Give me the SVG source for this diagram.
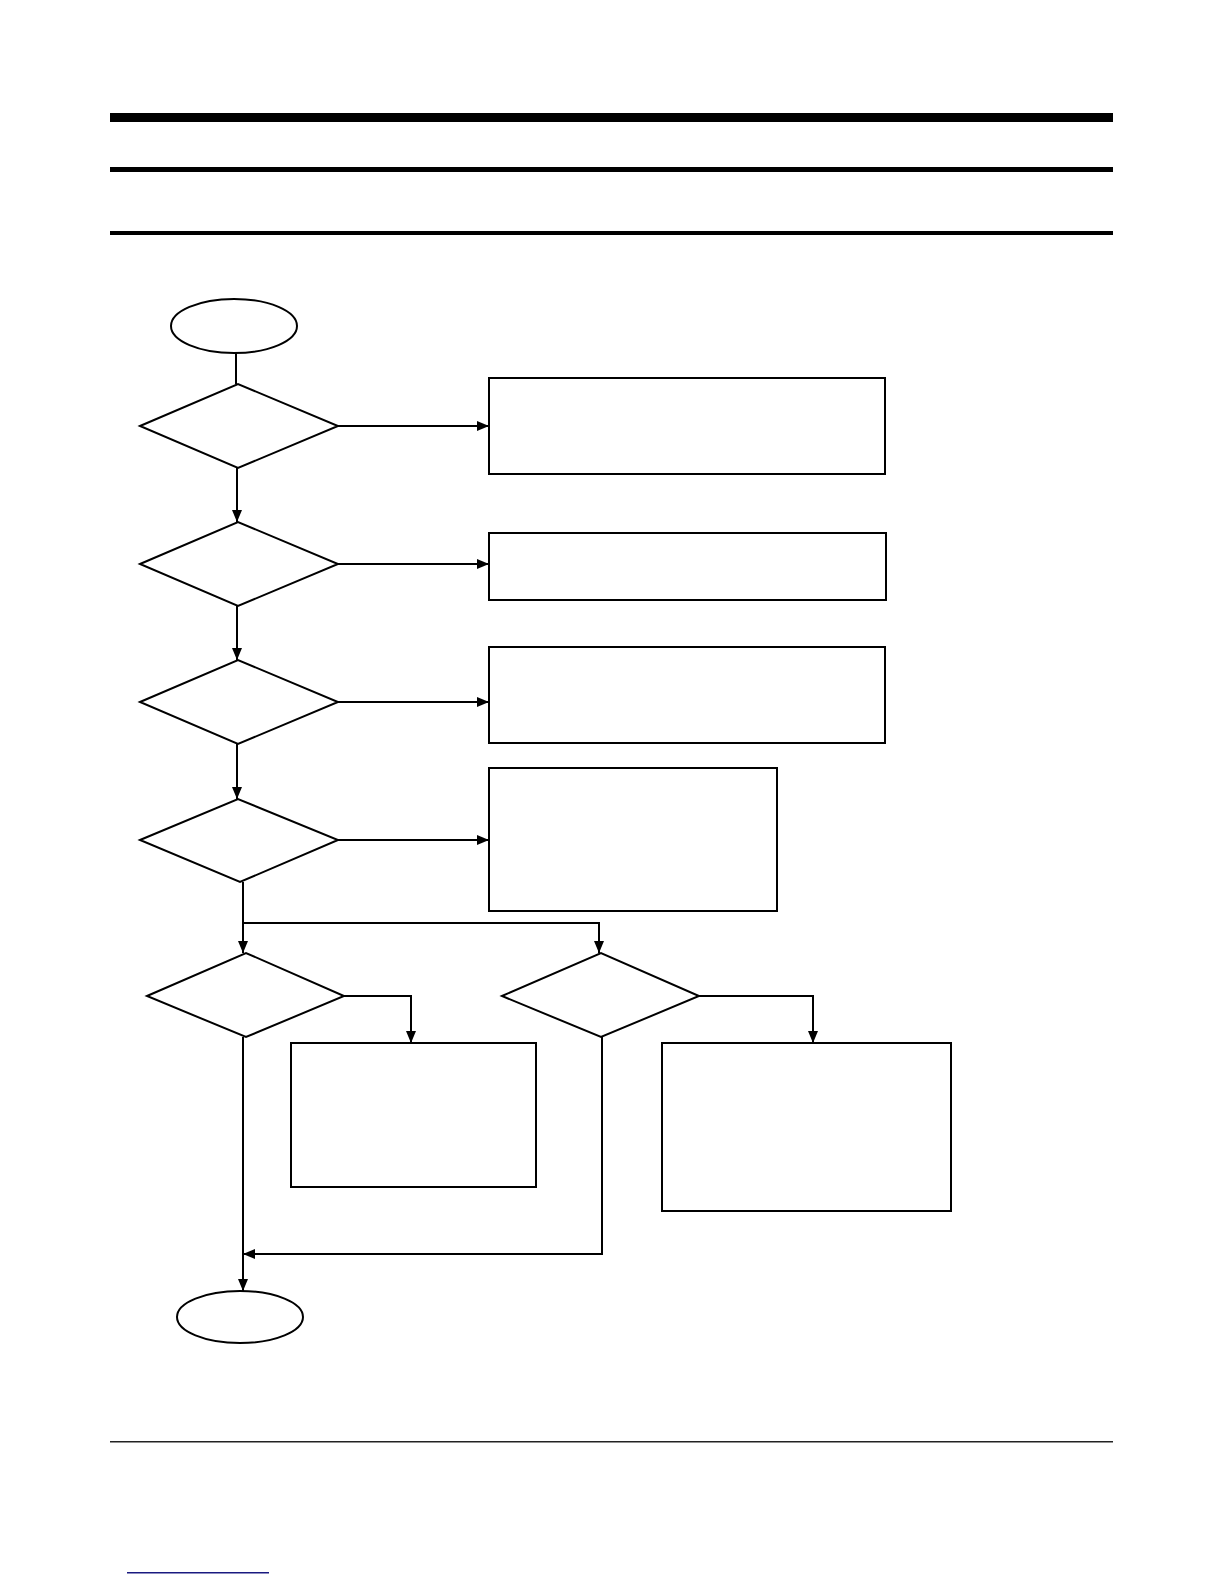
<svg xmlns="http://www.w3.org/2000/svg" width="1224" height="1584" viewBox="0 0 1224 1584">
<style>
.shape{fill:#fff;stroke:#000;stroke-width:2}
.conn{fill:none;stroke:#000;stroke-width:2}
</style>
<defs>
<marker id="arr" markerUnits="userSpaceOnUse" markerWidth="14" markerHeight="10" refX="12" refY="5" orient="auto">
<path d="M0,0 L12,5 L0,10 Z" fill="#000"/>
</marker>
</defs>
<rect width="1224" height="1584" fill="#fff"/>
<g id="header">
<rect x="110" y="113" width="1003" height="9" fill="#000"/>
<rect x="110" y="167" width="1003" height="5" fill="#000"/>
<rect x="110" y="231" width="1003" height="4" fill="#000"/>
</g>
<g id="footer">
<rect x="110" y="1441" width="1003" height="1.5" fill="#222"/>
<rect x="127" y="1572" width="142" height="1.5" fill="#1a1a80"/>
</g>
<g id="connectors">
<path class="conn" d="M236,353 V384"/>
<path class="conn" d="M338,426 H489" marker-end="url(#arr)"/>
<path class="conn" d="M237,468 V522" marker-end="url(#arr)"/>
<path class="conn" d="M338,564 H489" marker-end="url(#arr)"/>
<path class="conn" d="M237,606 V660" marker-end="url(#arr)"/>
<path class="conn" d="M338,702 H489" marker-end="url(#arr)"/>
<path class="conn" d="M237,744 V799" marker-end="url(#arr)"/>
<path class="conn" d="M338,840 H489" marker-end="url(#arr)"/>
<path class="conn" d="M243,882 V953" marker-end="url(#arr)"/>
<path class="conn" d="M243,923 H599 V953" marker-end="url(#arr)"/>
<path class="conn" d="M344,996 H411 V1043" marker-end="url(#arr)"/>
<path class="conn" d="M699,996 H813 V1043" marker-end="url(#arr)"/>
<path class="conn" d="M243,1037 V1291" marker-end="url(#arr)"/>
<path class="conn" d="M602,1037 V1254 H243" marker-end="url(#arr)"/>
</g>
<g id="start"><ellipse class="shape" cx="234" cy="326" rx="63" ry="27"/></g>
<g id="decision1"><polygon class="shape" points="140,426 238,384 338,426 238,468"/></g>
<g id="box1"><rect class="shape" x="489" y="378" width="396" height="96"/></g>
<g id="decision2"><polygon class="shape" points="140,564 238,522 338,564 238,606"/></g>
<g id="box2"><rect class="shape" x="489" y="533" width="397" height="67"/></g>
<g id="decision3"><polygon class="shape" points="140,702 238,660 338,702 238,744"/></g>
<g id="box3"><rect class="shape" x="489" y="647" width="396" height="96"/></g>
<g id="decision4"><polygon class="shape" points="140,840 238,799 338,840 240,882"/></g>
<g id="box4"><rect class="shape" x="489" y="768" width="288" height="143"/></g>
<g id="decision5"><polygon class="shape" points="147,996 246,953 344,996 246,1037"/></g>
<g id="box5"><rect class="shape" x="291" y="1043" width="245" height="144"/></g>
<g id="decision6"><polygon class="shape" points="502,996 601,953 699,996 601,1037"/></g>
<g id="box6"><rect class="shape" x="662" y="1043" width="289" height="168"/></g>
<g id="end"><ellipse class="shape" cx="240" cy="1317" rx="63" ry="26"/></g>
</svg>
